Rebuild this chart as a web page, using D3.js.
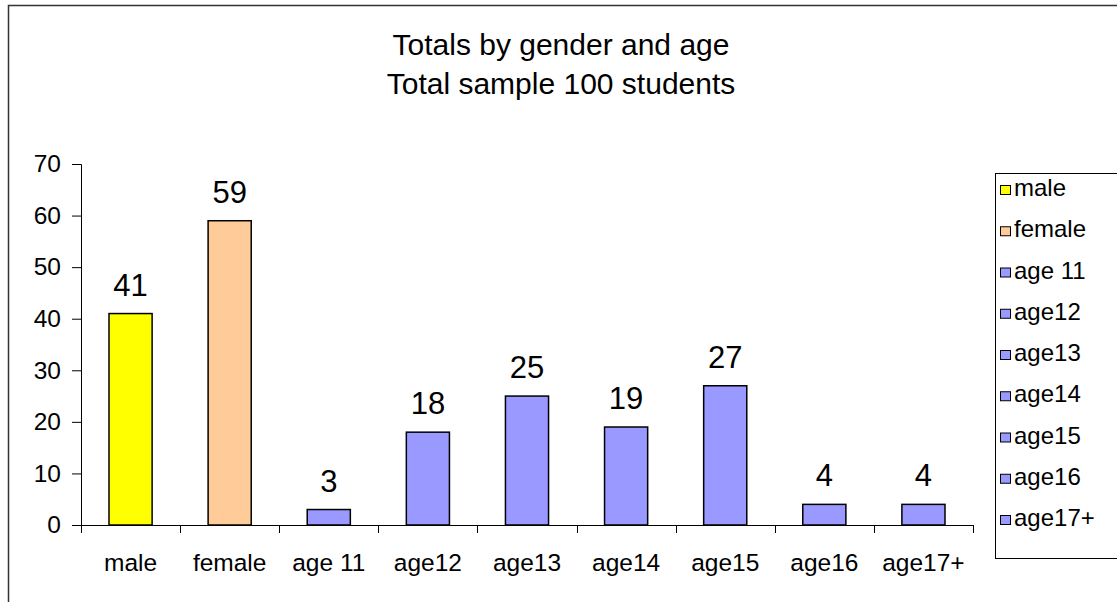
<!DOCTYPE html>
<html>
<head>
<meta charset="utf-8">
<script src="https://cdn.jsdelivr.net/npm/d3@7"></script>
<style>
  body { margin: 0; background: #fff; }
  svg { font-family: "Liberation Sans", Arial, sans-serif; }
</style>
</head>
<body>
<svg id="chart" width="1117" height="602"></svg>
<script>
// data
var categories = ["male", "female", "age 11", "age12", "age13", "age14", "age15", "age16", "age17+"];
var values = [41, 59, 3, 18, 25, 19, 27, 4, 4];
var yTicks = [0, 10, 20, 30, 40, 50, 60, 70];
var titleLines = ["Totals by gender and age", "Total sample 100 students"];

var svg = d3.select("#chart");

// outer frame (left + top edges only are visible)
svg.append("path")
  .attr("d", "M8.5,602 V5.5 H1117")
  .attr("fill", "none")
  .attr("stroke", "#333")
  .attr("stroke-width", 1.5);

// title
svg.append("g").selectAll("text")
  .data(titleLines)
  .enter().append("text")
    .attr("x", 561)
    .attr("y", function(d, i) { return 55 + i * 39; })
    .attr("text-anchor", "middle")
    .attr("font-size", 30)
    .text(function(d) { return d; });

var color = d3.scaleOrdinal()
  .domain(categories)
  .range(["#ffff00", "#ffcc99", "#9999ff", "#9999ff", "#9999ff", "#9999ff", "#9999ff", "#9999ff", "#9999ff"]);

var xTick = d3.scaleBand().domain(categories).range([81, 973]).padding(0);
var x = d3.scaleBand().domain(categories).range([81, 973])
  .paddingInner(0.565).paddingOuter(0.2825);
var y = d3.scaleLinear().domain([0, 70]).range([525, 164]);

// y axis
var yAxis = svg.append("g")
  .attr("transform", "translate(81,0)")
  .call(d3.axisLeft(y).tickValues(yTicks).tickSize(9).tickPadding(11));
yAxis.select(".domain").attr("stroke", "#000");
yAxis.selectAll("text").attr("font-size", 24.5).attr("fill", "#000")
  .attr("font-family", "Liberation Sans, Arial, sans-serif");

// bars
svg.append("g").selectAll("rect")
  .data(values)
  .enter().append("rect")
    .attr("x", function(d, i) { return x(categories[i]); })
    .attr("y", function(d) { return y(d); })
    .attr("width", x.bandwidth())
    .attr("height", function(d) { return y(0) - y(d); })
    .attr("fill", function(d, i) { return color(categories[i]); })
    .attr("stroke", "#000")
    .attr("stroke-width", 1.5);

// value labels
svg.append("g").selectAll("text")
  .data(values)
  .enter().append("text")
    .attr("x", function(d, i) { return x(categories[i]) + x.bandwidth() / 2; })
    .attr("y", function(d) { return y(d) - 18; })
    .attr("text-anchor", "middle")
    .attr("font-size", 31)
    .text(function(d) { return d; });

// x axis: ticks at category boundaries
var xg = svg.append("g");
xg.append("line")
  .attr("x1", 81).attr("x2", 973)
  .attr("y1", y(0) + 0.5).attr("y2", y(0) + 0.5)
  .attr("stroke", "#000");
xg.selectAll("line.tick")
  .data(categories.concat(["end"]))
  .enter().append("line")
    .attr("class", "tick")
    .attr("x1", function(d, i) { return Math.round(81 + i * xTick.step()) + 0.5; })
    .attr("x2", function(d, i) { return Math.round(81 + i * xTick.step()) + 0.5; })
    .attr("y1", y(0)).attr("y2", y(0) + 8)
    .attr("stroke", "#000");
xg.selectAll("text")
  .data(categories)
  .enter().append("text")
    .attr("x", function(d) { return xTick(d) + xTick.bandwidth() / 2; })
    .attr("y", 571)
    .attr("text-anchor", "middle")
    .attr("font-size", 24.5)
    .text(function(d) { return d; });

// legend
var legend = svg.append("g");
legend.append("rect")
  .attr("x", 995.5).attr("y", 173.5)
  .attr("width", 140).attr("height", 385)
  .attr("fill", "#fff")
  .attr("stroke", "#000");
var items = legend.selectAll("g.item")
  .data(categories)
  .enter().append("g")
    .attr("class", "item")
    .attr("transform", function(d, i) { return "translate(1000," + (196 + i * 41.25) + ")"; });
items.append("rect")
  .attr("x", 0.5).attr("y", -10.5)
  .attr("width", 10).attr("height", 9)
  .attr("fill", function(d) { return color(d); })
  .attr("stroke", "#000");
items.append("text")
  .attr("x", 14)
  .attr("y", 0)
  .attr("font-size", 24)
  .text(function(d) { return d; });
</script>
</body>
</html>
